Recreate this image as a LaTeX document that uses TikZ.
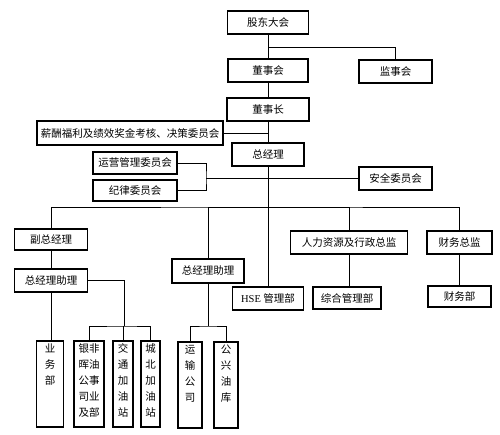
\documentclass[tikz,border=0pt]{standalone}
\usepackage{fontspec}
\setmainfont{Noto Sans CJK SC}
\newfontfamily\hsefont{Liberation Serif}
\begin{document}
\begin{tikzpicture}[x=1pt,y=-1pt,
  box/.style={draw,line width=1.2pt,inner sep=0pt,font=\fontsize{10.5}{12}\selectfont},
  conn/.style={line width=0.8pt}]
\useasboundingbox[fill=white] (0,0) rectangle (500,435);
\newcommand{\vtext}[2]{\parbox[c][86pt][t]{#1pt}{\centering\fontsize{10.5}{16}\selectfont\vspace*{3pt}#2}}
% boxes
\node[box,minimum width=81pt,minimum height=23pt] (gd) at (268,22.5) {股东大会};
\node[box,minimum width=80pt,minimum height=23pt] (dsh) at (268,70.5) {董事会};
\node[box,minimum width=73pt,minimum height=23pt] (jsh) at (395.5,71.5) {监事会};
\node[box,minimum width=82pt,minimum height=23pt] (dsz) at (268,109.5) {董事长};
\node[box,minimum width=186pt,minimum height=24pt] (xc) at (130,133) {薪酬福利及绩效奖金考核、决策委员会};
\node[box,minimum width=72pt,minimum height=23pt] (zjl) at (268,154.5) {总经理};
\node[box,minimum width=84pt,minimum height=22pt] (yy) at (135,163) {运营管理委员会};
\node[box,minimum width=84pt,minimum height=21pt] (jl) at (135,190.5) {纪律委员会};
\node[box,minimum width=73pt,minimum height=23pt] (aq) at (395.5,178.5) {安全委员会};
\node[box,minimum width=73pt,minimum height=21pt] (fzjl) at (51,239.5) {副总经理};
\node[box,minimum width=73pt,minimum height=23pt] (zlL) at (51,280.5) {总经理助理};
\node[box,minimum width=72pt,minimum height=24pt] (zlM) at (208,271) {总经理助理};
\node[box,minimum width=71pt,minimum height=23pt] (hse) at (268,298.5) {{\hsefont HSE} 管理部};
\node[box,minimum width=117pt,minimum height=23pt] (rl) at (349,242.5) {人力资源及行政总监};
\node[box,minimum width=68pt,minimum height=22pt] (zh) at (347,298) {综合管理部};
\node[box,minimum width=65pt,minimum height=23pt] (cwzj) at (459.5,242.5) {财务总监};
\node[box,minimum width=63pt,minimum height=21pt] (cwb) at (459.5,296.5) {财务部};
\node[box,minimum width=27pt] (ywb) at (50,384) {\vtext{27}{业\\务\\部}};
\node[box,minimum width=30pt] (yf) at (89,384) {\vtext{30}{银非\\晖油\\公事\\司业\\及部}};
\node[box,minimum width=20pt] (jt) at (123,384) {\vtext{20}{交\\通\\加\\油\\站}};
\node[box,minimum width=19pt] (cb) at (150.5,384) {\vtext{19}{城\\北\\加\\油\\站}};
\node[box,minimum width=24pt] (ys) at (190,385) {\vtext{24}{运\\输\\公\\司}};
\node[box,minimum width=24pt] (gx) at (226,385) {\vtext{24}{公\\兴\\油\\库}};
% coordinates
\coordinate (j1) at (268,47);
\coordinate (brk) at (206,178.5);
\coordinate (bus) at (268,207);
\coordinate (sbL) at (124,326);
\coordinate (sbM) at (208,326);
% connectors
\draw[conn] (gd) -- (dsh);
\draw[conn] (j1) -| (jsh.north);
\draw[conn] (dsh) -- (dsz);
\draw[conn] (dsz) -- (zjl);
\draw[conn] (xc.east) -- (xc.east -| zjl.south);
\draw[conn] (yy.east) -| (brk) |- (jl.east);
\draw[conn] (brk) -- (aq.west);
\draw[conn] (zjl) -- (hse);
\draw[conn] (fzjl.north) |- (bus) -| (cwzj.north);
\draw[conn] (zlM.north) |- (bus);
\draw[conn] (rl.north) |- (bus);
\draw[conn] (fzjl) -- (zlL);
\draw[conn] (zlL.south) -- (zlL.south |- ywb.north);
\draw[conn] (rl.south) -- (rl.south |- zh.north);
\draw[conn] (cwzj) -- (cwb);
\draw[conn] (zlL.east) -| (sbL);
\draw[conn] (yf.north) |- (sbL) -| (cb.north);
\draw[conn] (jt.north) -- (jt.north |- sbL);
\draw[conn] (zlM) -- (sbM);
\draw[conn] (ys.north) |- (sbM) -| (gx.north);
\end{tikzpicture}
\end{document}
